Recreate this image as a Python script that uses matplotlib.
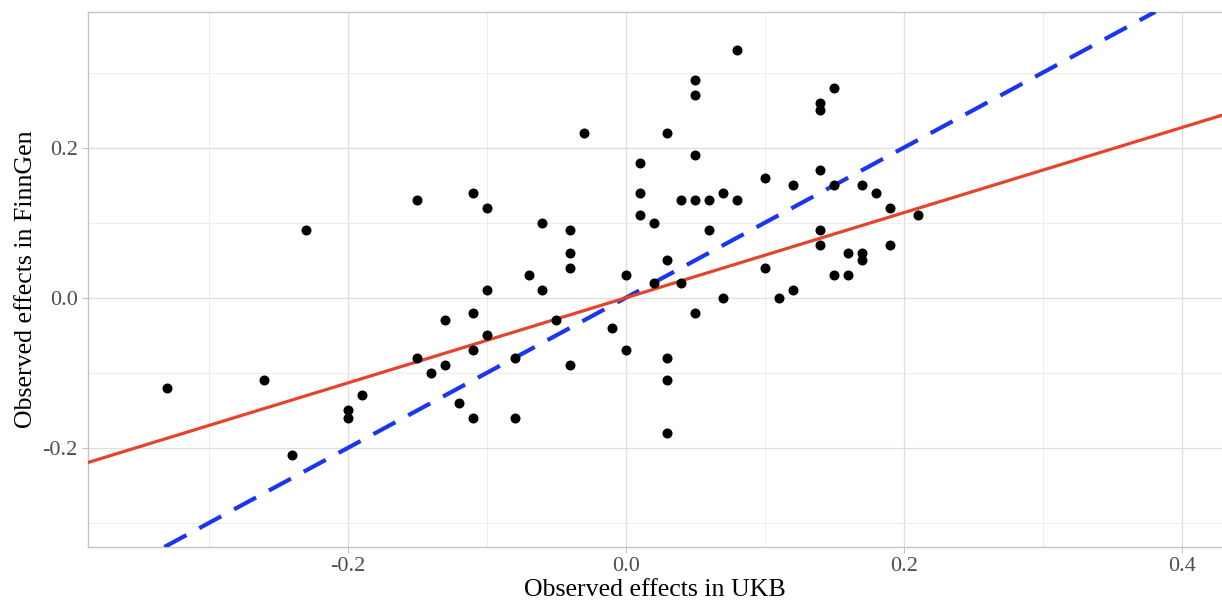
import numpy as np
import matplotlib
matplotlib.use("Agg")
import matplotlib.pyplot as plt
from matplotlib.ticker import MultipleLocator

# Observed effects: UKB (x) vs FinnGen (y)
ukb = [-0.33, -0.26, -0.24, -0.23, -0.20, -0.20, -0.19,
       -0.15, -0.15, -0.14, -0.13, -0.13, -0.12,
       -0.11, -0.11, -0.11, -0.11, -0.10, -0.10, -0.10,
       -0.08, -0.08, -0.07, -0.06, -0.06, -0.05,
       -0.04, -0.04, -0.04, -0.04, -0.03, -0.01, 0.00, 0.00,
       0.01, 0.01, 0.01, 0.02, 0.02,
       0.03, 0.03, 0.03, 0.03, 0.03, 0.04, 0.04,
       0.05, 0.05, 0.05, 0.05, 0.05, 0.06, 0.06, 0.07, 0.07,
       0.08, 0.08, 0.10, 0.10, 0.11, 0.12, 0.12,
       0.14, 0.14, 0.14, 0.14, 0.14, 0.15, 0.15, 0.15,
       0.16, 0.16, 0.17, 0.17, 0.17, 0.18, 0.19, 0.19, 0.21]
finngen = [-0.12, -0.11, -0.21, 0.09, -0.15, -0.16, -0.13,
           0.13, -0.08, -0.10, -0.03, -0.09, -0.14,
           0.14, -0.02, -0.07, -0.16, 0.12, 0.01, -0.05,
           -0.08, -0.16, 0.03, 0.10, 0.01, -0.03,
           0.09, 0.06, 0.04, -0.09, 0.22, -0.04, 0.03, -0.07,
           0.18, 0.14, 0.11, 0.10, 0.02,
           0.22, 0.05, -0.08, -0.11, -0.18, 0.13, 0.02,
           0.29, 0.27, 0.19, 0.13, -0.02, 0.13, 0.09, 0.14, 0.00,
           0.33, 0.13, 0.16, 0.04, 0.00, 0.15, 0.01,
           0.26, 0.25, 0.17, 0.09, 0.07, 0.28, 0.15, 0.03,
           0.06, 0.03, 0.15, 0.06, 0.05, 0.14, 0.12, 0.07, 0.11]

# fitted line and identity reference line
fit_slope = 0.567
fit_intercept = 0.0
identity_slope = 1.0

x_ticks = [-0.2, 0.0, 0.2, 0.4]
y_ticks = [-0.2, 0.0, 0.2]
x_labels = ["-0.2", "0.0", "0.2", "0.4"]
y_labels = ["-0.2", "0.0", "0.2"]

plt.rcParams['font.family'] = ['Liberation Serif', 'DejaVu Serif']

fig = plt.figure(figsize=(12.22, 6.04), dpi=100)
ax = fig.add_axes([0.072, 0.0944, 0.928, 0.886])

ax.set_xlim(-0.387, 0.429)
ax.set_ylim(-0.332, 0.381)

ax.xaxis.set_minor_locator(MultipleLocator(0.1))
ax.yaxis.set_minor_locator(MultipleLocator(0.1))
ax.grid(which='major', color='#dedede', linewidth=0.9)
ax.grid(which='minor', color='#ededed', linewidth=0.7)
ax.set_axisbelow(True)

for s in ax.spines.values():
    s.set_color('#c4c4c4')
    s.set_linewidth(1.0)
ax.spines['right'].set_visible(False)

ax.set_xticks(x_ticks)
ax.set_xticklabels(x_labels)
ax.set_yticks(y_ticks)
ax.set_yticklabels(y_labels)
ax.tick_params(which='major', length=4.5, color='#c4c4c4', labelsize=16,
               labelcolor='#4d4d4d', pad=3)
ax.tick_params(which='minor', length=0)

x = np.array(ukb)
y = np.array(finngen)

ax.axline((0, 0), slope=identity_slope, color='#1a36ee', linewidth=3.0,
          linestyle=(0, (6, 3.5)), zorder=3)
ax.axline((0, fit_intercept), slope=fit_slope, color='#e5432b',
          linewidth=2.3, zorder=3)

ax.scatter(x, y, s=52, color='black', zorder=4, linewidths=0)

ax.set_xlabel("Observed effects in UKB", fontsize=18.6, color='black', labelpad=2)
ax.set_ylabel("Observed effects in FinnGen", fontsize=18.6, color='black', labelpad=4)

fig.savefig("out.png", dpi=100)
